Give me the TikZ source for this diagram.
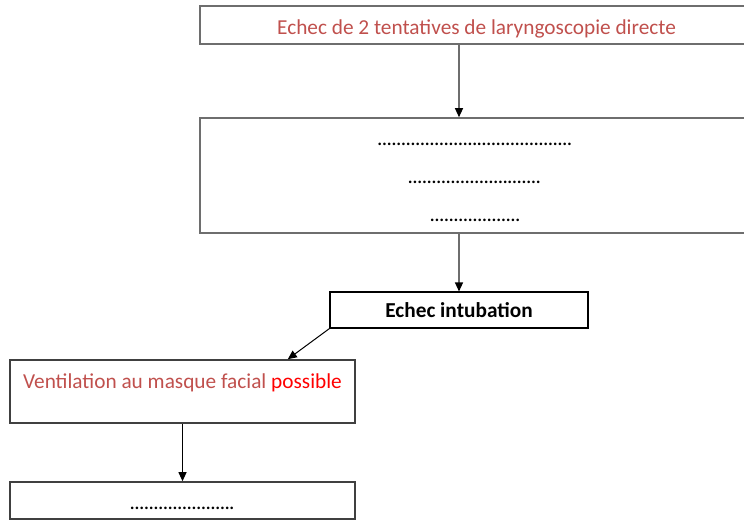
\documentclass[tikz,border=0pt]{standalone}
\usepackage{fontspec}
\setmainfont{Carlito}
\usetikzlibrary{arrows.meta}
\definecolor{accentred}{HTML}{C0504D}
\definecolor{boxgray}{HTML}{6E6E6E}
% a row of evenly spaced full stops of given width
\newcommand\dotrow[1]{\hbox to #1{\leaders\hbox to 4.75pt{\hss.\hss}\hfill}}
\begin{document}
\begin{tikzpicture}[x=1pt,y=1pt,
  box/.style={draw=boxgray, line width=1.6pt, inner sep=0pt},
  darkbox/.style={draw=black, line width=1.1pt, inner sep=0pt},
  txt/.style={anchor=base, inner sep=0pt, font=\fontsize{21.3}{25}\selectfont},
  grayarrow/.style={draw=boxgray, line width=1.3pt, -{Triangle[length=9pt,width=8pt,color=black]}},
  blackarrow/.style={draw=black, line width=1pt, -{Triangle[length=9pt,width=8pt,color=black]}}]
\useasboundingbox (0,0) rectangle (744,520);
\begin{scope}
\clip (0,0) rectangle (744,520);
% boxes
\node[box, minimum width=552pt, minimum height=38pt] (b1) at (476,495) {};
\node[box, minimum width=552pt, minimum height=115pt] (b2) at (476,344.5) {};
\node[darkbox, minimum width=258pt, minimum height=36pt] (b3) at (459,210) {};
\node[box, draw=black!75, minimum width=345pt, minimum height=63pt] (b4) at (182.5,128.5) {};
\node[box, draw=black!75, minimum width=345pt, minimum height=37pt] (b5) at (182.5,19.5) {};
\end{scope}
% texts
\node[txt, text=accentred] (t1) at (476.5,485.5) {Echec de 2 tentatives de laryngoscopie directe};
\node[txt] (d1) at (476,374.5) {\dotrow{197pt}};
\node[txt] (d2) at (476.5,336) {\dotrow{137pt}};
\node[txt] (d3) at (476,298.5) {\dotrow{92pt}};
\node[txt, font=\fontsize{21.3}{25}\selectfont\bfseries] (t3) at (459,202.5) {Echec intubation};
\node[txt, text=accentred] (t4) at (182.5,131.5) {Ventilation au masque facial \textcolor{red}{possible}};
\node[txt] (d5) at (183.5,10.5) {\dotrow{107pt}};
% connectors
\coordinate (c4) at ([xshift=-68pt]b4.north east);
\draw[grayarrow] (b1.south -| b3.north) -- (b2.north -| b3.north);
\draw[grayarrow] (b2.south -| b3.north) -- (b3.north);
\draw[blackarrow] (b3.south west) -- (c4);
\draw[blackarrow] (b4.south) -- (b5.north);
\end{tikzpicture}
\end{document}
